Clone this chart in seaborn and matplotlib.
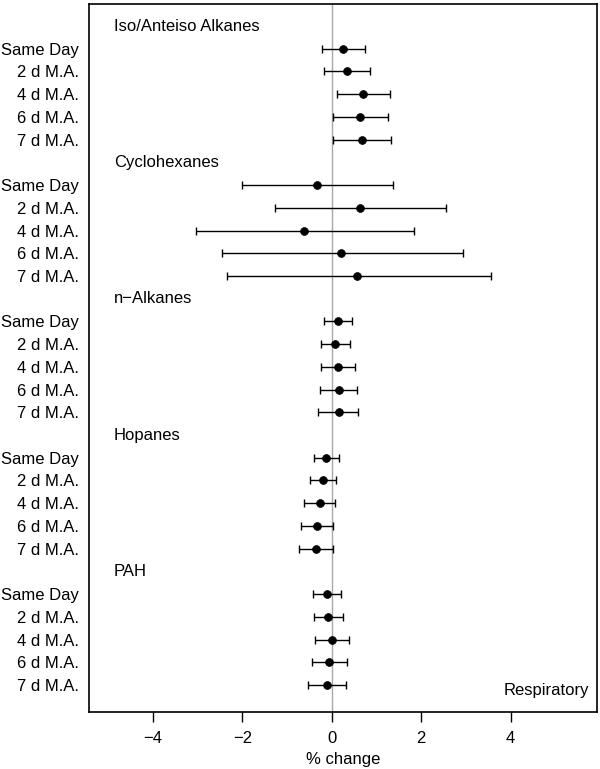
import matplotlib.pyplot as plt
import matplotlib.transforms as mtransforms
import pandas as pd
import seaborn as sns

groups = ["Iso/Anteiso Alkanes", "Cyclohexanes", "n\u2212Alkanes", "Hopanes", "PAH"]
lags = ["Same Day", "2 d M.A.", "4 d M.A.", "6 d M.A.", "7 d M.A."]

# point estimates and 95% CI, one row per group, one column per lag
est = [
    [0.26, 0.33, 0.70, 0.62, 0.67],
    [-0.33, 0.63, -0.62, 0.21, 0.56],
    [0.13, 0.08, 0.14, 0.15, 0.15],
    [-0.12, -0.19, -0.27, -0.33, -0.36],
    [-0.11, -0.09, 0.00, -0.07, -0.11],
]
lo = [
    [-0.22, -0.18, 0.11, 0.03, 0.03],
    [-2.01, -1.26, -3.03, -2.46, -2.34],
    [-0.18, -0.25, -0.25, -0.27, -0.30],
    [-0.40, -0.49, -0.62, -0.68, -0.74],
    [-0.42, -0.40, -0.37, -0.44, -0.54],
]
hi = [
    [0.75, 0.85, 1.29, 1.26, 1.32],
    [1.37, 2.56, 1.83, 2.93, 3.55],
    [0.45, 0.41, 0.52, 0.56, 0.59],
    [0.16, 0.10, 0.06, 0.03, 0.03],
    [0.21, 0.24, 0.38, 0.33, 0.31],
]

rows = []
for g, name in enumerate(groups):
    for k, lag in enumerate(lags):
        rows.append({"group": name, "lag": lag, "row": g * 6 + k + 1,
                     "est": est[g][k], "lo": lo[g][k], "hi": hi[g][k]})
df = pd.DataFrame(rows)

sns.set_style("white")
plt.rcParams["font.family"] = ["Liberation Sans", "DejaVu Sans"]
plt.rcParams.update({"text.color": "black", "axes.labelcolor": "black",
                     "xtick.color": "black", "ytick.color": "black"})

fig = plt.figure(figsize=(6, 7.69), dpi=100)
ax = fig.add_axes([89 / 600, 1 - 712 / 769, (597 - 89) / 600, (712 - 4) / 769])

ax.axvline(0, color="#a8a8a8", lw=1, zorder=0)
ax.errorbar(df["est"], df["row"], xerr=[df["est"] - df["lo"], df["hi"] - df["est"]],
            fmt="none", ecolor="black", elinewidth=1, capsize=3, capthick=1, zorder=2)
sns.scatterplot(data=df, x="est", y="row", color="black", s=32, edgecolor="black",
                linewidth=0.5, ax=ax, zorder=3, legend=False)

# group headers
trans = mtransforms.blended_transform_factory(ax.transAxes, ax.transData)
for g, name in enumerate(groups):
    ax.text(0.049, g * 6, name, transform=trans, ha="left", va="center", fontsize=12)
ax.text(0.985, 29.25, "Respiratory", ha="right", va="center", fontsize=12,
        transform=trans)

ax.set_xlim(-5.43, 5.93)
ax.set_ylim(30.19, -0.97)
ax.set_xticks([-4, -2, 0, 2, 4])
ax.set_yticks(df["row"])
ax.set_yticklabels(df["lag"])
ax.tick_params(axis="y", length=0, pad=7, labelsize=12)
ax.tick_params(axis="x", length=7, width=1, pad=7, labelsize=12, direction="out",
               bottom=True, color="black")
ax.set_xlabel("% change", fontsize=12, labelpad=4)
ax.set_ylabel("")
for sp in ax.spines.values():
    sp.set_color("black")
    sp.set_linewidth(1.2)

fig.savefig("out.png", dpi=100)
